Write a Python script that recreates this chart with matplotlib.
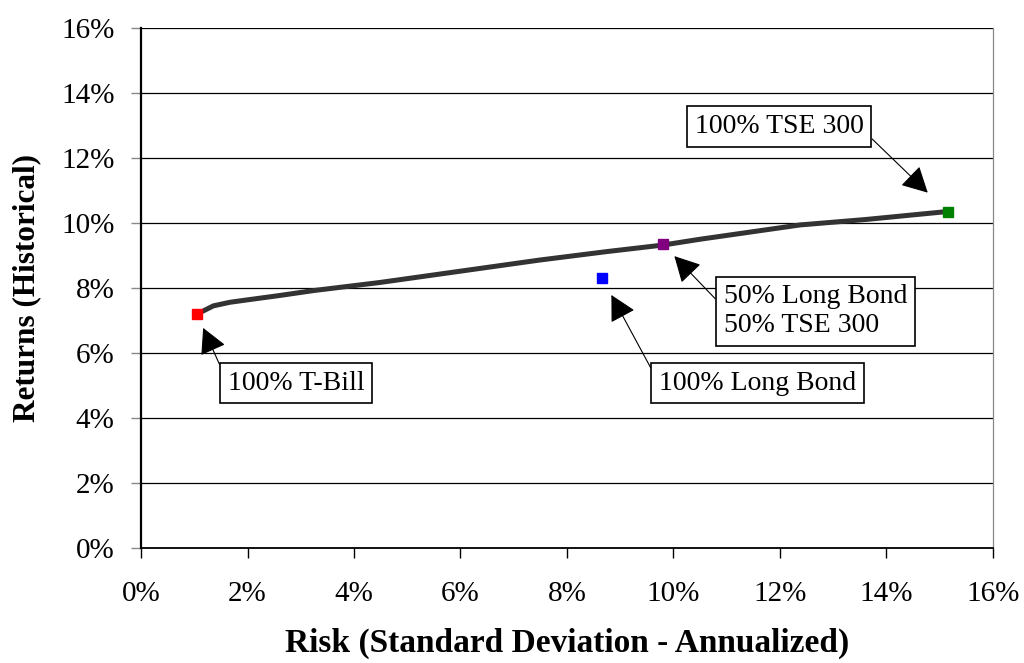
import matplotlib
matplotlib.use("Agg")
import matplotlib.pyplot as plt
from matplotlib.ticker import FuncFormatter

# ---- data (percent) ----
frontier_risk = [1.05, 1.14, 1.36, 1.67, 1.98, 2.61, 3.24, 4.49, 5.62, 7.49, 8.75, 9.80, 10.50, 12.38, 13.63, 15.13]
frontier_ret = [7.20, 7.27, 7.45, 7.56, 7.63, 7.77, 7.92, 8.17, 8.43, 8.86, 9.12, 9.32, 9.50, 9.94, 10.11, 10.35]

portfolio_names = ["100% T-Bill", "100% Long Bond", "50% Long Bond\n50% TSE 300", "100% TSE 300"]
portfolio_risk = [1.05, 8.66, 9.80, 15.15]
portfolio_ret = [7.20, 8.31, 9.35, 10.34]
portfolio_colors = ["#ff0000", "#0000ff", "#800080", "#008000"]

x_ticks = [0, 2, 4, 6, 8, 10, 12, 14, 16]
y_ticks = [0, 2, 4, 6, 8, 10, 12, 14, 16]

# ---- layout of labels (axes fraction of text left/center, arrow relpos, gap to point) ----
label_pos = [(0.102, 0.317), (0.608, 0.317), (0.684, 0.455), (0.650, 0.810)]
label_relpos = [(0.0, 0.5), (0.0, 0.5), (0.0, 0.57), (0.98, 0.47)]
label_gap = [11, 14, 12, 20]

plt.rcParams['font.family'] = ['Liberation Serif', 'DejaVu Serif']

fig = plt.figure(figsize=(10.24, 6.63), dpi=100)
ax = fig.add_axes([0.1377, 0.1735, 0.8320, 0.7843])

ax.set_xlim(0, 16)
ax.set_ylim(0, 16)
ax.set_xticks(x_ticks)
ax.set_yticks(y_ticks)
pct = FuncFormatter(lambda v, p: f"{v:.0f}%")
ax.xaxis.set_major_formatter(pct)
ax.yaxis.set_major_formatter(pct)

ax.grid(axis='y', color='black', linewidth=0.9, zorder=0)
ax.set_axisbelow(True)

ax.spines['top'].set_visible(False)
ax.spines['right'].set_color('#888888')
ax.spines['right'].set_linewidth(0.9)
ax.spines['left'].set_linewidth(1.6)
ax.spines['bottom'].set_linewidth(1.3)
ax.tick_params(axis='both', direction='out', length=7, width=1, labelsize=21, colors='black')
ax.tick_params(axis='y', color='#888888', pad=12)
ax.tick_params(axis='x', pad=17)

ax.plot(frontier_risk, frontier_ret, color='#333333', linewidth=3.6,
        solid_capstyle='round', solid_joinstyle='round', zorder=3)
for xr, yr, c in zip(portfolio_risk, portfolio_ret, portfolio_colors):
    ax.plot([xr], [yr], marker='s', markersize=6.5, color=c, linestyle='none', zorder=4)

for name, xr, yr, pos, rp, gap in zip(portfolio_names, portfolio_risk, portfolio_ret,
                                      label_pos, label_relpos, label_gap):
    ax.annotate(name, xy=(xr, yr), xycoords='data',
                xytext=pos, textcoords='axes fraction',
                ha='left', va='center', fontsize=20, linespacing=1.2,
                bbox=dict(boxstyle='square,pad=0.28', fc='white', ec='black', lw=1.2),
                arrowprops=dict(arrowstyle='-|>,head_length=1.6,head_width=0.85',
                                mutation_scale=10, color='black', lw=0.8,
                                relpos=rp, shrinkA=0, shrinkB=gap),
                zorder=5)

ax.set_xlabel("Risk (Standard Deviation - Annualized)", fontsize=24, fontweight='bold', labelpad=15)
ax.set_ylabel("Returns (Historical)", fontsize=22.5, fontweight='bold', labelpad=14)

fig.savefig("out.png", dpi=100)
